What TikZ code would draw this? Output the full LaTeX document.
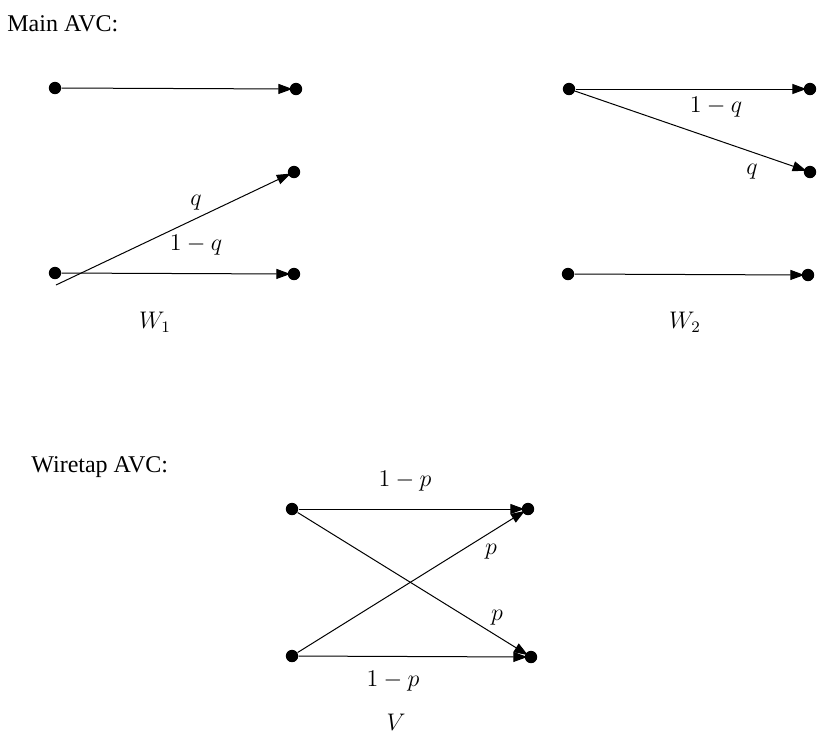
\documentclass[tikz,border=0pt]{standalone}
\usepackage{fontspec}
\setmainfont{Liberation Serif}
\usetikzlibrary{arrows.meta}
\begin{document}
\begin{tikzpicture}[x=0.5pt,y=-0.5pt,
  dot/.style={circle,fill=black,inner sep=0pt,minimum size=6.2pt},
  arr/.style={-{Triangle[length=7pt,width=5pt]},line width=0.5pt,shorten >=-1.5pt},
  lbl/.style={font=\fontsize{12}{14}\selectfont,inner sep=0pt}]
\useasboundingbox (0,0) rectangle (835,741);
\node[lbl,anchor=west] (t1) at (7,24) {Main AVC:};
\node[lbl,anchor=west] (t2) at (31,467) {Wiretap AVC:};
% W1
\node[dot] (a1) at (55,88) {};
\node[dot] (a2) at (55,273) {};
\node[dot] (b1) at (296,89) {};
\node[dot] (b2) at (294,172) {};
\node[dot] (b3) at (294,274) {};
\coordinate (a2s) at (56,285);
\draw[arr] (a1) -- (b1);
\draw[arr] (a2) -- (b3);
\draw[arr] (a2s) -- (b2);
\node[lbl] (lq1) at (196,203) {$q$};
\node[lbl] (lq2) at (196,245) {$1-q$};
\node[lbl] (w1) at (155,322) {$W_1$};
% W2
\node[dot] (c1) at (569,89) {};
\node[dot] (c2) at (568,274) {};
\node[dot] (d1) at (810,89) {};
\node[dot] (d2) at (810,172) {};
\node[dot] (d3) at (808,275) {};
\draw[arr] (c1) -- (d1);
\draw[arr] (c1) -- (d2);
\draw[arr] (c2) -- (d3);
\node[lbl] (lq3) at (716,107) {$1-q$};
\node[lbl] (lq4) at (752,172) {$q$};
\node[lbl] (w2) at (685,322) {$W_2$};
% V
\node[dot] (e1) at (292,509) {};
\node[dot] (e2) at (292,656) {};
\node[dot] (f1) at (528,509) {};
\node[dot] (f2) at (531,657) {};
\draw[arr] (e1) -- (f1);
\draw[arr] (e1) -- (f2);
\draw[arr] (e2) -- (f1);
\draw[arr] (e2) -- (f2);
\node[lbl] (lp1) at (405,481) {$1-p$};
\node[lbl] (lp2) at (491,552) {$p$};
\node[lbl] (lp3) at (497,618) {$p$};
\node[lbl] (lp4) at (393,681) {$1-p$};
\node[lbl] (v) at (396,722) {$V$};
\end{tikzpicture}
\end{document}
